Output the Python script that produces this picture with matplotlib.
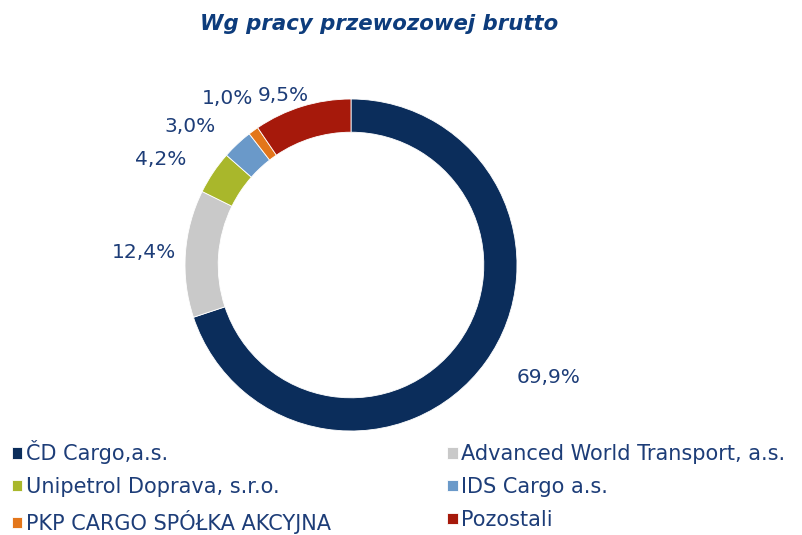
import matplotlib.pyplot as plt
import numpy as np

# shares of gross transport work
companies = ["ČD Cargo,a.s.", "Advanced World Transport, a.s.",
             "Unipetrol Doprava, s.r.o.", "IDS Cargo a.s.",
             "PKP CARGO SPÓŁKA AKCYJNA", "Pozostali"]
shares = [69.9, 12.4, 4.2, 3.0, 1.0, 9.5]
colors = ["#0b2d5b", "#c9c9c9", "#a9b72b", "#6a99c9", "#e3761b", "#a6190b"]
labels = [f"{v:.1f}%".replace(".", ",") for v in shares]

# label placement (angle tweak in degrees, radius in pie units)
lab_angle_shift = [6.2, 0.4, 4.8, 6.2, 0.5, 4.5]
lab_radius = [1.37, 1.25, 1.31, 1.28, 1.25, 1.10]

text_col = "#1d3d78"
W, H = 802, 535
fig = plt.figure(figsize=(W / 100, H / 100), dpi=100)

# pie axes: centre at (351, 265) px, outer radius 166 px
cx, cy, R = 351, 265, 166
half = 230
ax = fig.add_axes([(cx - half) / W, (H - cy - half) / H, 2 * half / W, 2 * half / H])

wedges, _ = ax.pie(shares, colors=colors, startangle=90, counterclock=False,
                   radius=1.0, wedgeprops=dict(width=0.2, edgecolor="white", linewidth=0.6))
ax.set_xlim(-half / R, half / R)
ax.set_ylim(-half / R, half / R)
ax.set_aspect("equal")
ax.axis("off")

# percentage labels outside the ring
cum = np.cumsum([0] + shares[:-1])
for i, v in enumerate(shares):
    mid = 90 - (cum[i] + v / 2) / 100 * 360 + lab_angle_shift[i]
    a = np.deg2rad(mid)
    ax.text(lab_radius[i] * np.cos(a), lab_radius[i] * np.sin(a), labels[i],
            ha="center", va="center", fontsize=14.5, color=text_col)

fig.text(379 / W, 1 - 24 / H, "Wg pracy przewozowej brutto", ha="center", va="center",
         fontsize=15.3, fontweight="bold", fontstyle="italic", color="#0d3c7c")

# legend fills column by column, so reorder to read row by row
order = [0, 2, 4, 1, 3, 5]
leg = fig.legend([wedges[i] for i in order], [companies[i] for i in order],
                 ncol=2, loc="upper left",
                 bbox_to_anchor=(12 / W, 1 - 440 / H), frameon=False,
                 handlelength=0.5, handleheight=0.5, handletextpad=0.15,
                 columnspacing=5.6, labelspacing=0.62, borderaxespad=0.0, borderpad=0.0,
                 prop={"family": "DejaVu Sans", "size": 15})
for t in leg.get_texts():
    t.set_color(text_col)

fig.savefig("out.png", dpi=100)
